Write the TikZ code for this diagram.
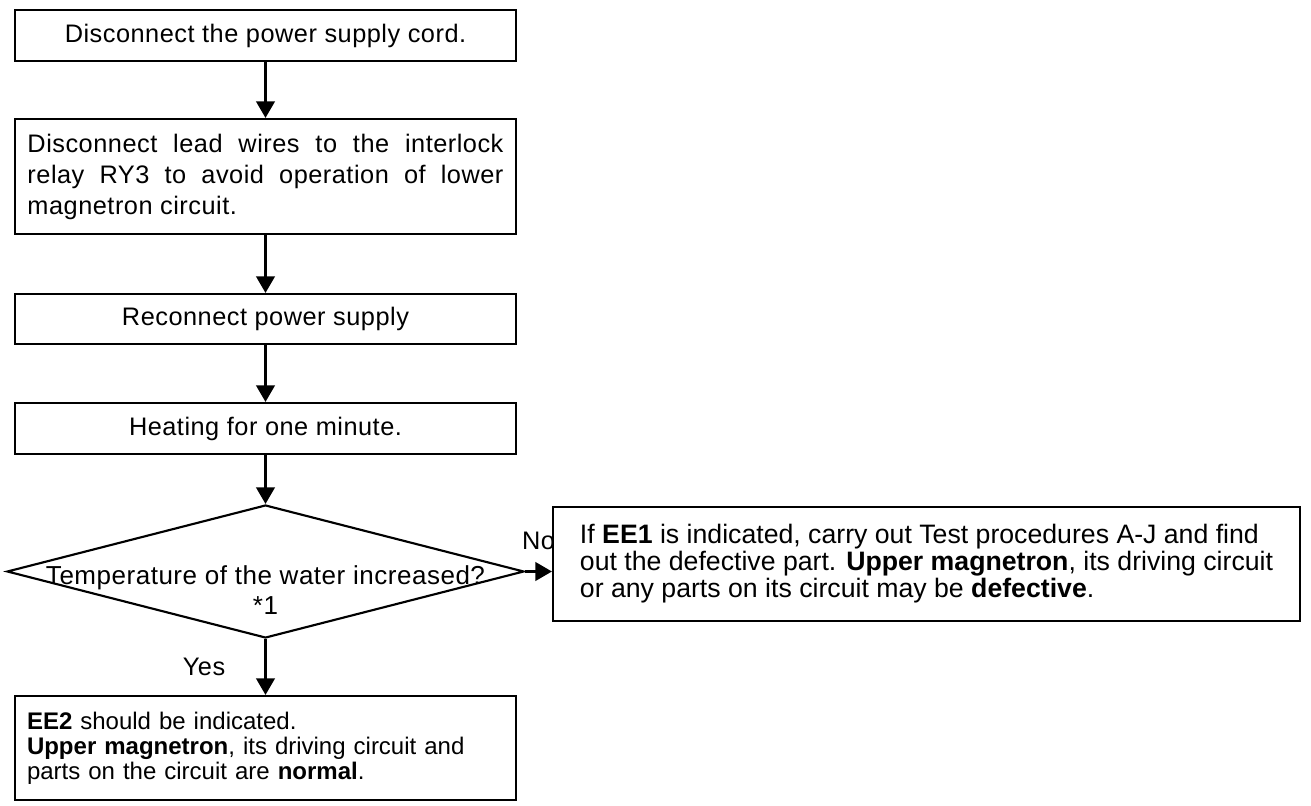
\documentclass[tikz,border=0pt]{standalone}
\usepackage{fontspec}
\setmainfont{Liberation Sans}
\newfontfamily\spacedfont[LetterSpace=2]{Liberation Sans}
\usetikzlibrary{arrows.meta,shapes.geometric}
\tikzset{
	stepbox/.style={draw, line width=1.6pt, rectangle, inner sep=0pt, minimum width=375.75pt},
	decision/.style={draw, line width=1.6pt, diamond, inner sep=0pt, minimum width=387.75pt, minimum height=99.75pt},
	flow/.style={line width=1.8pt, -{Triangle[width=14pt,length=12.5pt]}},
	txt/.style={font=\spacedfont\fontsize{19}{22}\selectfont}
}

\begin{document}
\begin{tikzpicture}[x=0.75pt, y=-0.75pt]
		%%%%% START %%%%%
		\useasboundingbox (0, 0) rectangle (1311, 806);

		\node[stepbox, txt, minimum height=38.25pt] (cord) at (265.5, 35.5) {Disconnect the power supply cord.};
		\node[stepbox, minimum height=86.25pt, text width=357pt, align=justify, font=\spacedfont\fontsize{19}{23.25}\selectfont] (leads) at (265.5, 176.5)
			{Disconnect lead wires to the interlock\linebreak relay RY3 to avoid operation of lower\linebreak magnetron circuit.};
		\node[stepbox, txt, minimum height=37.5pt] (reconnect) at (265.5, 319) {Reconnect power supply};
		\node[stepbox, txt, minimum height=38.25pt] (heating) at (265.5, 428.5) {Heating for one minute.};

		\node[decision] (temp) at (265.5, 571.5) {};
		\node[align=center, font=\spacedfont\fontsize{19.5}{22.5}\selectfont] (tempq) at (265.5, 590) {Temperature of the water increased?\\*1};

		\node[stepbox, minimum width=560.25pt, minimum height=85.5pt, align=left, font=\fontsize{20}{20.25}\selectfont] (fault) at (926.5, 564)
			{If \textbf{EE1} is indicated, carry out Test procedures A-J and find\\out the defective part. \textbf{Upper magnetron}, its driving circuit\\or any parts on its circuit may be \textbf{defective}.};
		\node[stepbox, minimum height=78pt, inner xsep=9pt, text width=357.75pt, align=left, font=\fontsize{18}{18.75}\selectfont] (normal) at (265.5, 748)
			{\textbf{EE2} should be indicated.\\\textbf{Upper magnetron}, its driving circuit and\\parts on the circuit are \textbf{normal}.};

		\draw[flow] (cord) -- (leads);
		\draw[flow] (leads) -- (reconnect);
		\draw[flow] (reconnect) -- (heating);
		\draw[flow] (heating) -- (temp.north);
		\draw[flow] (temp.east) -- (temp.east -| fault.west) node[txt, midway, above=12pt] (no) {No};
		\draw[flow] (temp.south) -- (normal) node[txt, midway, left=26pt] (yes) {Yes};
		%%%%% END %%%%%
\end{tikzpicture}
\end{document}
